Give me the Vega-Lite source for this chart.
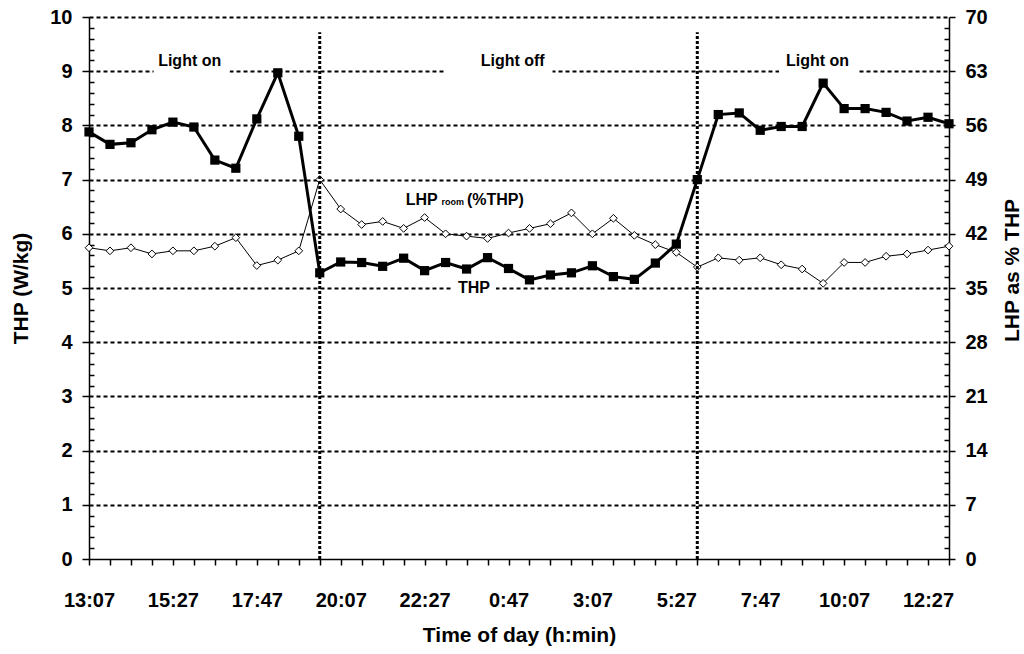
{
  "$schema": "https://vega.github.io/schema/vega-lite/v6.json",
  "autosize": "none",
  "width": 860,
  "height": 542,
  "padding": {"left": 89, "top": 17, "right": 75, "bottom": 95},
  "background": "white",
  "config": {
    "view": {"stroke": null},
    "font": "Liberation Sans",
    "axis": {"labelFont": "Liberation Sans", "titleFont": "Liberation Sans", "labelFontWeight": "bold", "titleFontWeight": "bold", "labelColor": "black", "titleColor": "black", "domainColor": "black", "tickColor": "black"}
  },
  "datasets": {
    "series": [
      {"i": 0, "time": "13:07", "thp": 7.88, "lhp": 40.2},
      {"i": 1, "time": "13:42", "thp": 7.65, "lhp": 39.8},
      {"i": 2, "time": "14:17", "thp": 7.68, "lhp": 40.2},
      {"i": 3, "time": "14:52", "thp": 7.92, "lhp": 39.4},
      {"i": 4, "time": "15:27", "thp": 8.06, "lhp": 39.8},
      {"i": 5, "time": "16:02", "thp": 7.97, "lhp": 39.8},
      {"i": 6, "time": "16:37", "thp": 7.36, "lhp": 40.4},
      {"i": 7, "time": "17:12", "thp": 7.21, "lhp": 41.5},
      {"i": 8, "time": "17:47", "thp": 8.12, "lhp": 37.9},
      {"i": 9, "time": "18:22", "thp": 8.97, "lhp": 38.6},
      {"i": 10, "time": "18:57", "thp": 7.80, "lhp": 39.8},
      {"i": 11, "time": "19:32", "thp": 5.28, "lhp": 49.0},
      {"i": 12, "time": "20:07", "thp": 5.48, "lhp": 45.2},
      {"i": 13, "time": "20:42", "thp": 5.47, "lhp": 43.2},
      {"i": 14, "time": "21:17", "thp": 5.40, "lhp": 43.6},
      {"i": 15, "time": "21:52", "thp": 5.55, "lhp": 42.7},
      {"i": 16, "time": "22:27", "thp": 5.32, "lhp": 44.1},
      {"i": 17, "time": "23:02", "thp": 5.47, "lhp": 42.0},
      {"i": 18, "time": "23:37", "thp": 5.35, "lhp": 41.7},
      {"i": 19, "time": "0:12", "thp": 5.56, "lhp": 41.4},
      {"i": 20, "time": "0:47", "thp": 5.36, "lhp": 42.1},
      {"i": 21, "time": "1:22", "thp": 5.15, "lhp": 42.7},
      {"i": 22, "time": "1:57", "thp": 5.24, "lhp": 43.3},
      {"i": 23, "time": "2:32", "thp": 5.28, "lhp": 44.7},
      {"i": 24, "time": "3:07", "thp": 5.41, "lhp": 42.0},
      {"i": 25, "time": "3:42", "thp": 5.21, "lhp": 44.0},
      {"i": 26, "time": "4:17", "thp": 5.16, "lhp": 41.8},
      {"i": 27, "time": "4:52", "thp": 5.46, "lhp": 40.6},
      {"i": 28, "time": "5:27", "thp": 5.81, "lhp": 39.6},
      {"i": 29, "time": "6:02", "thp": 7.00, "lhp": 37.7},
      {"i": 30, "time": "6:37", "thp": 8.20, "lhp": 38.9},
      {"i": 31, "time": "7:12", "thp": 8.23, "lhp": 38.6},
      {"i": 32, "time": "7:47", "thp": 7.91, "lhp": 38.9},
      {"i": 33, "time": "8:22", "thp": 7.98, "lhp": 38.0},
      {"i": 34, "time": "8:57", "thp": 7.98, "lhp": 37.45},
      {"i": 35, "time": "9:32", "thp": 8.78, "lhp": 35.6},
      {"i": 36, "time": "10:07", "thp": 8.31, "lhp": 38.3},
      {"i": 37, "time": "10:42", "thp": 8.31, "lhp": 38.3},
      {"i": 38, "time": "11:17", "thp": 8.24, "lhp": 39.1},
      {"i": 39, "time": "11:52", "thp": 8.08, "lhp": 39.4},
      {"i": 40, "time": "12:27", "thp": 8.15, "lhp": 39.9},
      {"i": 41, "time": "13:02", "thp": 8.03, "lhp": 40.4}
    ],
    "boxes": [
      {"x1": 3.08, "x2": 6.71, "y1": 8.95, "y2": 9.05},
      {"x1": 17.0, "x2": 22.1, "y1": 8.95, "y2": 9.05},
      {"x1": 32.9, "x2": 36.7, "y1": 8.95, "y2": 9.05},
      {"x1": 17.3, "x2": 19.4, "y1": 4.95, "y2": 5.05}
    ],
    "lights": [
      {"i": 11, "y1": 0, "y2": 9.72},
      {"i": 29, "y1": 0, "y2": 9.72}
    ],
    "lightLabels": [
      {"x": 4.8, "y": 9.09, "label": "Light on"},
      {"x": 20.2, "y": 9.09, "label": "Light off"},
      {"x": 34.73, "y": 9.09, "label": "Light on"}
    ],
    "bigLabels": [
      {"x": 15.1, "y": 6.54, "label": "LHP"},
      {"x": 18.02, "y": 6.54, "label": "(%THP)"}
    ],
    "subLabels": [
      {"x": 16.8, "y": 6.53, "label": "room"}
    ],
    "thpLabel": [
      {"x": 18.35, "y": 5.0, "label": "THP"}
    ]
  },
  "layer": [
    {
      "data": {"name": "series"},
      "mark": {"type": "line", "color": "black", "strokeWidth": 1},
      "encoding": {
        "x": {"field": "i", "type": "quantitative", "scale": {"domain": [0, 41], "nice": false, "zero": false}, "axis": null},
        "y": {"field": "lhp", "type": "quantitative", "scale": {"domain": [0, 70], "nice": false},
          "axis": {
            "orient": "right",
            "title": "LHP as % THP",
            "titleFontSize": 21,
            "titleAngle": 270,
            "titleBaseline": "top",
            "titlePadding": 14,
            "titleY": 253,
            "values": [0,7,14,21,28,35,42,49,56,63,70],
            "labelFontSize": 20,
            "labelPadding": 10,
            "labelOverlap": false,
            "labelBound": false,
            "labelFlush": false,
            "tickSize": 6,
            "tickWidth": 1.5,
            "domainWidth": 1.5,
            "grid": false
          }
        }
      }
    },
    {
      "data": {"name": "series"},
      "mark": {"type": "point", "shape": "diamond", "filled": true, "fill": "white", "stroke": "black", "strokeWidth": 1, "size": 60, "opacity": 1},
      "encoding": {
        "x": {"field": "i", "type": "quantitative", "scale": {"domain": [0, 41], "nice": false, "zero": false}, "axis": null},
        "y": {"field": "lhp", "type": "quantitative", "scale": {"domain": [0, 70], "nice": false}, "axis": null}
      }
    },
    {
      "data": {"name": "boxes"},
      "mark": {"type": "rect", "fill": "white"},
      "encoding": {
        "x": {"field": "x1", "type": "quantitative", "scale": {"domain": [0, 41], "nice": false, "zero": false}, "axis": null},
        "x2": {"field": "x2"},
        "y": {"field": "y1", "type": "quantitative", "scale": {"domain": [0, 10], "nice": false}, "axis": null},
        "y2": {"field": "y2"}
      }
    },
    {
      "data": {"name": "lights"},
      "mark": {"type": "rule", "color": "black", "strokeWidth": 3, "strokeDash": [3, 2]},
      "encoding": {
        "x": {"field": "i", "type": "quantitative", "scale": {"domain": [0, 41], "nice": false, "zero": false}, "axis": null},
        "y": {"field": "y1", "type": "quantitative", "scale": {"domain": [0, 10], "nice": false}, "axis": null},
        "y2": {"field": "y2"}
      }
    },
    {
      "data": {"name": "series"},
      "mark": {"type": "line", "color": "black", "strokeWidth": 3},
      "encoding": {
        "x": {"field": "i", "type": "quantitative", "scale": {"domain": [0, 41], "nice": false, "zero": false},
          "axis": {
            "title": "Time of day (h:min)",
            "titleFontSize": 21,
            "titlePadding": 14,
            "values": [0,1,2,3,4,5,6,7,8,9,10,11,12,13,14,15,16,17,18,19,20,21,22,23,24,25,26,27,28,29,30,31,32,33,34,35,36,37,38,39,40,41],
            "labelExpr": "datum.value % 4 === 0 ? ['13:07','15:27','17:47','20:07','22:27','0:47','3:07','5:27','7:47','10:07','12:27'][datum.value / 4] : ''",
            "labelFontSize": 20,
            "labelPadding": 25,
            "labelOverlap": false,
            "labelBound": false,
            "labelFlush": false,
            "tickSize": 6,
            "tickWidth": 1.5,
            "domainWidth": 1.5,
            "grid": false
          }
        },
        "y": {"field": "thp", "type": "quantitative", "scale": {"domain": [0, 10], "nice": false},
          "axis": {
            "orient": "left",
            "title": "THP (W/kg)",
            "titleFontSize": 21,
            "titlePadding": 18,
            "values": [0,1,2,3,4,5,6,7,8,9,10],
            "labelFontSize": 20,
            "labelPadding": 10,
            "labelOverlap": false,
            "labelBound": false,
            "labelFlush": false,
            "tickSize": 7,
            "tickWidth": 1.5,
            "domainWidth": 1.5,
            "grid": true,
            "gridColor": "black",
            "gridWidth": 2,
            "gridDash": [4, 3],
            "gridOpacity": {"condition": {"test": "datum.value > 0", "value": 1}, "value": 0}
          }
        }
      }
    },
    {
      "data": {"name": "series"},
      "mark": {"type": "point", "shape": "square", "filled": true, "color": "black", "size": 85, "opacity": 1},
      "encoding": {
        "x": {"field": "i", "type": "quantitative", "scale": {"domain": [0, 41], "nice": false, "zero": false}, "axis": null},
        "y": {"field": "thp", "type": "quantitative", "scale": {"domain": [0, 10], "nice": false}, "axis": null}
      }
    },
    {
      "data": {"name": "lightLabels"},
      "mark": {"type": "text", "font": "Liberation Sans", "fontWeight": "bold", "fontSize": 16, "align": "center", "baseline": "alphabetic", "color": "black"},
      "encoding": {
        "x": {"field": "x", "type": "quantitative", "scale": {"domain": [0, 41], "nice": false, "zero": false}, "axis": null},
        "y": {"field": "y", "type": "quantitative", "scale": {"domain": [0, 10], "nice": false}, "axis": null},
        "text": {"field": "label"}
      }
    },
    {
      "data": {"name": "bigLabels"},
      "mark": {"type": "text", "font": "Liberation Sans", "fontWeight": "bold", "fontSize": 16, "align": "left", "baseline": "alphabetic", "color": "black"},
      "encoding": {
        "x": {"field": "x", "type": "quantitative", "scale": {"domain": [0, 41], "nice": false, "zero": false}, "axis": null},
        "y": {"field": "y", "type": "quantitative", "scale": {"domain": [0, 10], "nice": false}, "axis": null},
        "text": {"field": "label"}
      }
    },
    {
      "data": {"name": "subLabels"},
      "mark": {"type": "text", "font": "Liberation Sans", "fontWeight": "bold", "fontSize": 9, "align": "left", "baseline": "alphabetic", "color": "black"},
      "encoding": {
        "x": {"field": "x", "type": "quantitative", "scale": {"domain": [0, 41], "nice": false, "zero": false}, "axis": null},
        "y": {"field": "y", "type": "quantitative", "scale": {"domain": [0, 10], "nice": false}, "axis": null},
        "text": {"field": "label"}
      }
    },
    {
      "data": {"name": "thpLabel"},
      "mark": {"type": "text", "font": "Liberation Sans", "fontWeight": "bold", "fontSize": 16, "align": "center", "baseline": "middle", "color": "black"},
      "encoding": {
        "x": {"field": "x", "type": "quantitative", "scale": {"domain": [0, 41], "nice": false, "zero": false}, "axis": null},
        "y": {"field": "y", "type": "quantitative", "scale": {"domain": [0, 10], "nice": false}, "axis": null},
        "text": {"field": "label"}
      }
    },
    {
      "data": {"name": "series"},
      "mark": {"type": "point", "opacity": 0},
      "encoding": {
        "x": {"field": "i", "type": "quantitative", "scale": {"domain": [0, 41], "nice": false, "zero": false}, "axis": null},
        "y": {"field": "thp", "type": "quantitative", "scale": {"domain": [0, 10], "nice": false},
          "axis": {"orient": "left", "title": null, "labels": false, "domain": false, "grid": false, "offset": -5, "tickSize": 5, "tickWidth": 1.5,
            "values": [0.2,0.4,0.6,0.8,1.2,1.4,1.6,1.8,2.2,2.4,2.6,2.8,3.2,3.4,3.6,3.8,4.2,4.4,4.6,4.8,5.2,5.4,5.6,5.8,6.2,6.4,6.6,6.8,7.2,7.4,7.6,7.8,8.2,8.4,8.6,8.8,9.2,9.4,9.6,9.8]}
        }
      }
    },
    {
      "data": {"name": "series"},
      "mark": {"type": "point", "opacity": 0},
      "encoding": {
        "x": {"field": "i", "type": "quantitative", "scale": {"domain": [0, 41], "nice": false, "zero": false}, "axis": null},
        "y": {"field": "lhp", "type": "quantitative", "scale": {"domain": [0, 70], "nice": false},
          "axis": {"orient": "right", "title": null, "labels": false, "domain": false, "grid": false, "offset": -5, "tickSize": 5, "tickWidth": 1.5,
            "values": [1.4,2.8,4.2,5.6,8.4,9.8,11.2,12.6,15.4,16.8,18.2,19.6,22.4,23.8,25.2,26.6,29.4,30.8,32.2,33.6,36.4,37.8,39.2,40.6,43.4,44.8,46.2,47.6,50.4,51.8,53.2,54.6,57.4,58.8,60.2,61.6,64.4,65.8,67.2,68.6]}
        }
      }
    }
  ],
  "resolve": {"scale": {"x": "independent", "y": "independent"}}
}
